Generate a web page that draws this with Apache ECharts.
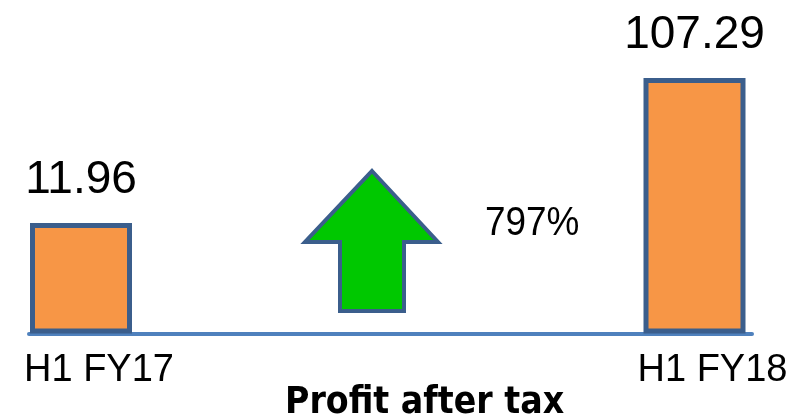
<!DOCTYPE html>
<html>
<head>
<meta charset="utf-8">
<script src="https://cdn.jsdelivr.net/npm/echarts@6/dist/echarts.min.js"></script>
<style>
  html, body { margin: 0; padding: 0; background: #fff; }
  #chart { width: 794px; height: 420px; }
</style>
</head>
<body>
<div id="chart"></div>
<script>
const categories = ["H1 FY17", "H1 FY18"];
const profit = [11.96, 107.29];
const growthText = "797%";
const titleText = "Profit after tax";

const chart = echarts.init(document.getElementById("chart"));

const option = {
  animation: false,
  title: {
    text: titleText,
    left: 280,
    top: 380,
    textStyle: {
      fontFamily: "DejaVu Sans Condensed, DejaVu Sans",
      fontWeight: "bold",
      fontSize: 37,
      color: "#000"
    }
  },
  grid: { left: 29, right: 42, top: 40, bottom: 86.5 },
  xAxis: {
    type: "value",
    min: -0.08476,
    max: 1.09372,
    axisLine: {
      onZero: false,
      lineStyle: { color: "#4f81bd", width: 4 }
    },
    axisTick: { show: false },
    splitLine: { show: false },
    axisLabel: {
      customValues: [0, 1],
      formatter: (v) => categories[Math.round(v)],
      fontFamily: "Liberation Sans, Arial",
      fontSize: 38,
      color: "#000",
      margin: 18,
      padding: [0, 0, 0, 36]
    }
  },
  yAxis: {
    type: "value",
    min: -60.7,
    max: 132.3,
    startValue: -60.7,
    show: false,
    splitLine: { show: false }
  },
  series: [
    {
      type: "bar",
      barWidth: 102,
      data: profit.map((v, i) => [i, v]),
      itemStyle: {
        color: "#f79646",
        borderColor: "#3b5e8c",
        borderWidth: 5
      },
      label: {
        show: true,
        position: "top",
        distance: 20,
        fontFamily: "Liberation Sans, Arial",
        fontSize: 46,
        color: "#000",
        formatter: (p) => p.value[1].toFixed(2)
      }
    }
  ],
  graphic: [
    {
      type: "polygon",
      shape: {
        points: [[372, 171], [438, 242], [404, 242], [404, 311], [340, 311], [340, 242], [305, 242]]
      },
      style: { fill: "#00c800", stroke: "#3b5e8c", lineWidth: 4, lineJoin: "miter" }
    },
    {
      type: "text",
      x: 485,
      y: 203,
      scaleX: 0.9,
      style: {
        text: growthText,
        font: "41px 'Liberation Sans', Arial, sans-serif",
        fill: "#000"
      }
    }
  ]
};

chart.setOption(option);
</script>
</body>
</html>
